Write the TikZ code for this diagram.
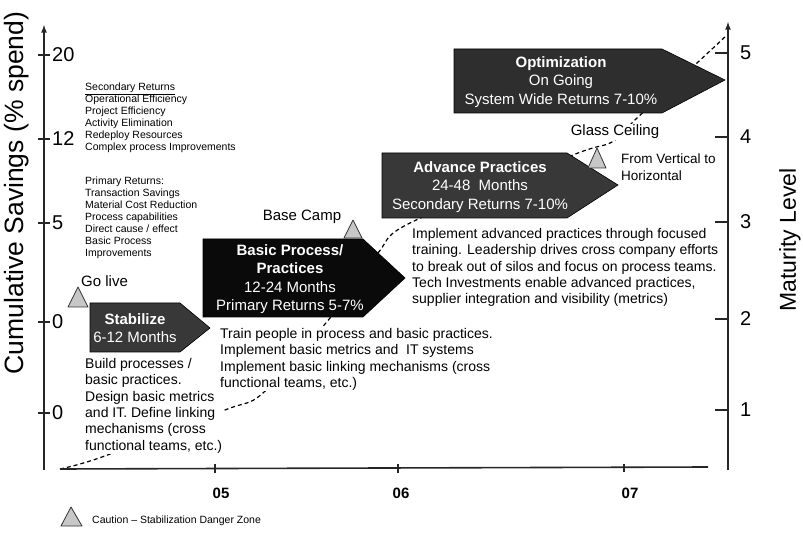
\documentclass[tikz,border=0pt]{standalone}
\usepackage{fontspec}
\setmainfont{Liberation Sans}
\usetikzlibrary{arrows}

\begin{document}
\begin{tikzpicture}[x=1pt,y=-1pt]

  \tikzstyle{axis} = [line width=1.6pt, black!85]
  \tikzstyle{arrow} = [axis, -latex]
  \tikzstyle{stage} = [fill=black!78, draw=black, line width=0.6pt]
  \tikzstyle{stagetext} = [text=white, align=center, inner sep=0pt, font=\fontsize{15}{18.5}\selectfont]
  \tikzstyle{caution} = [fill=black!22, draw=black!80, line width=0.8pt, line join=round]
  \tikzstyle{note} = [align=left, anchor=north west, inner sep=1pt, fill=white, font=\fontsize{14}{16.4}\selectfont]
  \tikzstyle{list} = [align=left, anchor=north west, inner sep=0pt, font=\fontsize{10.5}{12}\selectfont]
  \tikzstyle{ticklabel} = [anchor=west, inner sep=0pt, font=\fontsize{20}{20}\selectfont]
  \tikzstyle{yearlabel} = [inner sep=0pt, font=\bfseries\fontsize{15}{15}\selectfont]
  \tikzstyle{marker} = [inner sep=1pt, font=\fontsize{15}{15}\selectfont]
  \tikzstyle{trend} = [line width=1.2pt, dash pattern=on 4pt off 3pt]

  \useasboundingbox (0,0) rectangle (803,534);

  % maturity curve, runs behind the stages
  \draw [trend] plot [smooth, tension=0.5] coordinates {(60,469) (102,457) (225,410) (263,393) (330,318) (378,253) (410,223) (573,155) (612,142) (637,118) (697,63) (727,35)};

  % axes
  \draw [arrow] (44,470) -- (44,25);
  \draw [arrow] (728,470) -- (728,22);
  \draw [axis] (60,469) -- (708,467);

  \draw [axis] (38,55) -- (50,55);
  \draw [axis] (38,139) -- (50,139);
  \draw [axis] (38,223) -- (50,223);
  \draw [axis] (38,322) -- (50,322);
  \draw [axis] (38,413) -- (50,413);
  \node (s20) [ticklabel] at (52,55) {20};
  \node (s12) [ticklabel] at (52,139) {12};
  \node (s5)  [ticklabel] at (52,223) {5};
  \node (s0a) [ticklabel] at (52,322) {0};
  \node (s0b) [ticklabel] at (52,413) {0};

  \draw [axis] (715,53) -- (728,53);
  \draw [axis] (715,137) -- (728,137);
  \draw [axis] (715,222) -- (728,222);
  \draw [axis] (715,319) -- (728,319);
  \draw [axis] (715,410) -- (728,410);
  \node (m5) [ticklabel] at (740,53) {5};
  \node (m4) [ticklabel] at (740,137) {4};
  \node (m3) [ticklabel] at (740,222) {3};
  \node (m2) [ticklabel] at (740,319) {2};
  \node (m1) [ticklabel] at (740,410) {1};

  \draw [axis] (215,464) -- (215,473);
  \draw [axis] (398,464) -- (398,473);
  \draw [axis] (624,464) -- (624,472);
  \node (y05) [yearlabel] at (221,493) {05};
  \node (y06) [yearlabel] at (401,493) {06};
  \node (y07) [yearlabel] at (630,493) {07};

  \node (savings)  [rotate=90, font=\fontsize{26.5}{26.5}\selectfont] at (17,193) {Cumulative Savings (\% spend)};
  \node (maturity) [rotate=90, font=\fontsize{23}{23}\selectfont] at (790,240) {Maturity Level};

  % returns lists
  \node (secondary) [list] at (85,83) {\underline{Secondary Returns}\\Operational Efficiency\\Project Efficiency\\Activity Elimination\\Redeploy Resources\\Complex process Improvements};
  \node (primary) [list] at (85,177) {Primary Returns:\\Transaction Savings\\Material Cost Reduction\\Process capabilities\\Direct cause / effect\\Basic Process\\Improvements};

  % stages
  \fill [stage] (90,303) -- (180,303) -- (210,328) -- (180,352) -- (90,352) -- cycle;
  \node (stabilize) [stagetext] at (135,328) {\textbf{Stabilize}\\6-12 Months};

  \fill [stage, fill=black!96] (203,239) -- (363,239) -- (405,278) -- (363,317) -- (203,317) -- cycle;
  \node (basic) [stagetext] at (290,279) {\textbf{Basic Process/}\\\textbf{Practices}\\12-24 Months\\Primary Returns 5-7\%};

  \fill [stage] (382,153) -- (567,153) -- (618,185) -- (567,218) -- (382,218) -- cycle;
  \node (advance) [stagetext] at (480,187) {\textbf{Advance Practices}\\24-48\ \ Months\\Secondary Returns 7-10\%};

  \fill [stage, fill=black!82] (454,49) -- (662,49) -- (725,80) -- (662,113) -- (454,113) -- cycle;
  \node (optimization) [stagetext] at (561,82) {\textbf{Optimization}\\On Going\\System Wide Returns 7-10\%};

  % stage notes
  \node (buildnote) [note] at (84,357) {Build processes /\\basic practices.\\Design basic metrics\\and IT. Define linking\\mechanisms (cross\\functional teams, etc.)};
  \node (trainnote) [note] at (219,327) {Train people in process and basic practices.\\Implement basic metrics and\ \ IT systems\\Implement basic linking mechanisms (cross\\functional teams, etc.)};
  \node (advnote) [note] at (411,227) {Implement advanced practices through focused\\training. Leadership drives cross company efforts\\to break out of silos and focus on process teams.\\Tech Investments enable advanced practices,\\supplier integration and visibility (metrics)};

  % caution markers
  \filldraw [caution] (78,287) -- (88,307) -- (68,307) -- cycle;
  \node (golive) [marker, anchor=west] at (80,281) {Go live};
  \filldraw [caution] (353,220) -- (362,238) -- (344,238) -- cycle;
  \node (basecamp) [marker] at (302,217) {Base Camp};
  \filldraw [caution] (597,148) -- (606,168) -- (588,168) -- cycle;
  \node (glass) [marker, fill=white] at (615,132) {Glass Ceiling};
  \node (vertical) [note, fill=none, font=\fontsize{13.5}{17}\selectfont] at (620,153) {From Vertical to\\Horizontal};

  % legend
  \filldraw [caution] (71,507) -- (82,526) -- (61,526) -- cycle;
  \node (legend) [anchor=west, inner sep=0pt, font=\fontsize{10.5}{12}\selectfont] at (92,521) {Caution -- Stabilization Danger Zone};

\end{tikzpicture}
\end{document}
